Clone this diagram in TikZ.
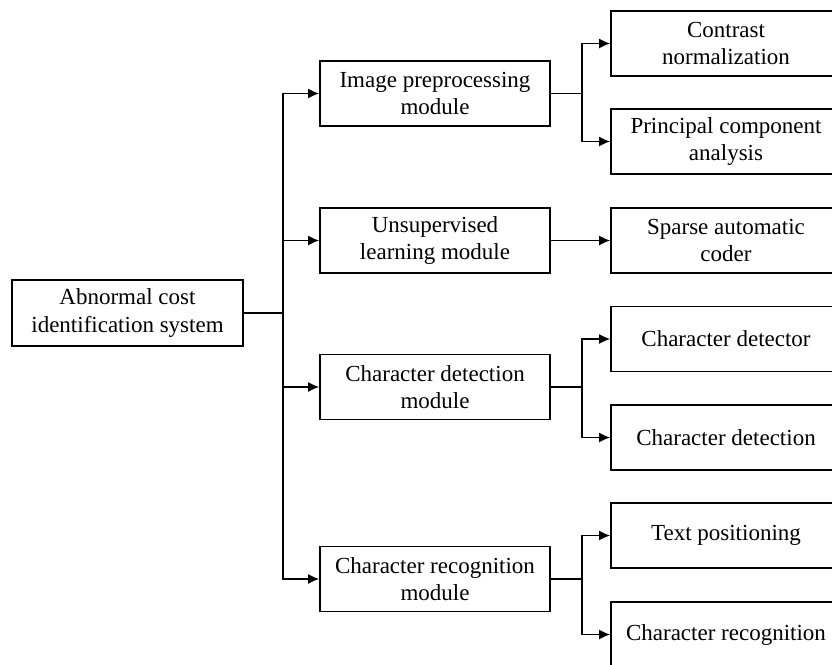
\documentclass[tikz,border=0pt]{standalone}
\usepackage{fontspec}
\setmainfont{Liberation Serif}
\usetikzlibrary{arrows.meta}
\tikzset{
  box/.style={
    draw, rectangle, align=center, minimum width=230pt, minimum height=65pt,
    inner sep=0pt, line width=1.6pt, font=\fontsize{23}{27.5}\selectfont
  },
  rootbox/.style={
    box, minimum width=231pt, minimum height=66pt
  },
  conn/.style={line width=1.6pt},
  arr/.style={-{Latex[length=11pt,width=10pt]}, line width=1.6pt}
}

\begin{document}
\begin{tikzpicture}[x=1pt,y=-1pt]
 \useasboundingbox (0,0) rectangle (832,664);
 \clip (0,0) rectangle (832,664);

 \node[rootbox] (sys) at (127.5,313) {Abnormal cost\\identification system};

 \node[box] (prep) at (435,93.5) {Image preprocessing\\module};
 \node[box] (unsup) at (435,240.5) {Unsupervised\\learning module};
 \node[box] (detmod) at (435,387) {Character detection\\module};
 \node[box] (recmod) at (435,579) {Character recognition\\module};

 \node[box] (contrast) at (726,43.5) {Contrast\\normalization};
 \node[box] (pca) at (726,141.5) {Principal component\\analysis};
 \node[box] (sparse) at (726,240.5) {Sparse automatic\\coder};
 \node[box] (detector) at (726,339) {Character detector};
 \node[box] (detection) at (726,437.5) {Character detection};
 \node[box] (textpos) at (726,535.5) {Text positioning};
 \node[box] (recog) at (726,634.5) {Character recognition};

 % trunk from the system box
 \draw[conn] (sys.east) -- ++(39,0) coordinate (trunk);
 \foreach \m in {prep,unsup,detmod,recmod} {
   \draw[arr] (trunk) |- (\m.west);
 }

 % second level
 \draw[conn] (prep.east) -- ++(31,0) coordinate (bprep);
 \draw[arr] (bprep) |- (contrast.west);
 \draw[arr] (bprep) |- (pca.west);
 \draw[arr] (unsup.east) -- (sparse.west);
 \draw[conn] (detmod.east) -- ++(31,0) coordinate (bdet);
 \draw[arr] (bdet) |- (detector.west);
 \draw[arr] (bdet) |- (detection.west);
 \draw[conn] (recmod.east) -- ++(31,0) coordinate (brec);
 \draw[arr] (brec) |- (textpos.west);
 \draw[arr] (brec) |- (recog.west);
\end{tikzpicture}
\end{document}
